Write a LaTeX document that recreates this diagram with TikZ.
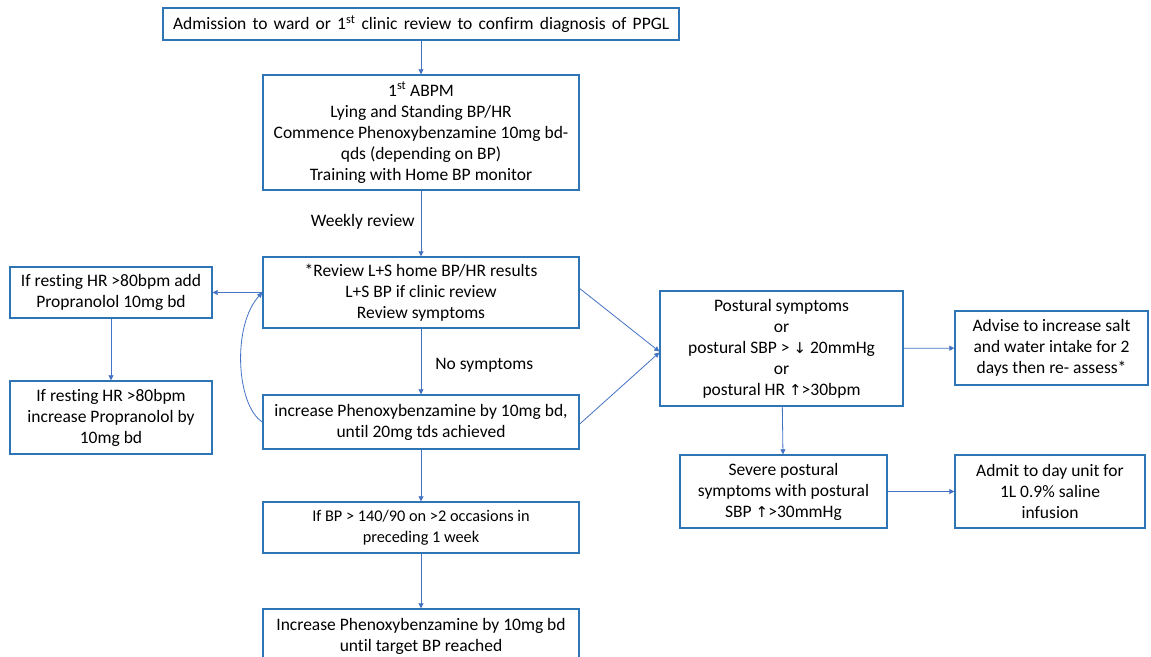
\documentclass[tikz,border=0pt]{standalone}
\usepackage{fontspec}
\setmainfont{Carlito}[Ligatures=NoCommon]
\newfontfamily\arrfont{DejaVu Sans}
\usetikzlibrary{arrows.meta}
\definecolor{boxblue}{RGB}{46,117,182}
\definecolor{lineblue}{RGB}{68,114,196}
\newcommand{\ua}{{\arrfont\fontsize{15}{15}\selectfont ↑}}
\newcommand{\da}{{\arrfont\fontsize{15}{15}\selectfont ↓}}
\begin{document}
\begin{tikzpicture}[x=1pt,y=-1pt,
  box/.style={draw=boxblue, line width=1.4pt, align=center, inner sep=0pt,
    font=\fontsize{17.5}{21}\selectfont, text=black},
  arr/.style={draw=lineblue, line width=0.8pt, -{Triangle[length=5pt,width=5pt]}},
  lbl/.style={font=\fontsize{17.5}{21}\selectfont, inner sep=0pt}]
\useasboundingbox (0,0) rectangle (1151,656);
\fill[white] (0,0) rectangle (1151,656);

\node[box, inner xsep=10pt, minimum height=32pt] (A) at (421,24)
  {\makebox[496pt][l]{\spaceskip=6.2pt Admission to ward or 1\textsuperscript{st} clinic review to confirm diagnosis of PPGL}};
\node[box, minimum width=316pt, minimum height=115pt] (B) at (421,132.5)
  {1\textsuperscript{st} ABPM\\Lying and Standing BP/HR\\Commence Phenoxybenzamine 10mg bd-\\qds (depending on BP)\\Training with Home BP monitor};
\node[box, minimum width=316pt, minimum height=71pt] (C) at (421,292.5)
  {*Review L+S home BP/HR results\\L+S BP if clinic review\\Review symptoms};
\node[box, minimum width=316pt, minimum height=54pt] (D) at (421,422)
  {increase Phenoxybenzamine by 10mg bd,\\until 20mg tds achieved};
\node[box, minimum width=316pt, minimum height=51pt, font=\fontsize{16.3}{21}\selectfont] (E) at (421,527.5)
  {If BP > 140/90 on >2 occasions in\\preceding 1 week};
\node[box, minimum width=316pt, minimum height=54pt] (F) at (421,636)
  {Increase Phenoxybenzamine by 10mg bd\\until target BP reached};
\node[box, minimum width=202pt, minimum height=51pt] (G) at (111,292.5)
  {If resting HR >80bpm add\\Propranolol 10mg bd};
\node[box, minimum width=202pt, minimum height=73pt] (H) at (111,417.5)
  {If resting HR >80bpm\\increase Propranolol by\\10mg bd};
\node[box, minimum width=243pt, minimum height=115pt] (I) at (781.5,348.5)
  {Postural symptoms\\or\\postural SBP > \da{} 20mmHg\\or\\postural HR \ua>30bpm};
\node[box, minimum width=193pt, minimum height=74pt] (J) at (1051.5,348)
  {Advise to increase salt\\and water intake for 2\\days then re- assess*};
\node[box, minimum width=207pt, minimum height=73pt] (K) at (783.5,491.5)
  {Severe postural\\symptoms with postural\\SBP \ua>30mmHg};
\node[box, minimum width=190pt, minimum height=73pt] (L) at (1050,491.5)
  {Admit to day unit for\\1L 0.9\% saline\\infusion};

\draw[arr] (A) -- (B);
\draw[arr] (B) -- node[lbl, left=6pt, pos=0.48] (wr) {Weekly review} (C);
\draw[arr] (C) -- node[lbl, right=14pt, pos=0.56] (ns) {No symptoms} (D);
\draw[arr] (D) -- (E);
\draw[arr] (E) -- (F);
\draw[arr] (C.west) -- (G.east);
\draw[arr] (D.west) .. controls (236,405) and (232,325) .. (C.west);
\draw[arr] (G) -- (H);
\draw[arr] ([yshift=4pt]C.east) -- ([yshift=-3pt]I.west);
\draw[arr] ([yshift=-2pt]D.east) -- ([yshift=-4pt]I.west);
\draw[arr] (I) -- (J);
\draw[arr] (I) -- (K);
\draw[arr] (K) -- (L);
\end{tikzpicture}
\end{document}
